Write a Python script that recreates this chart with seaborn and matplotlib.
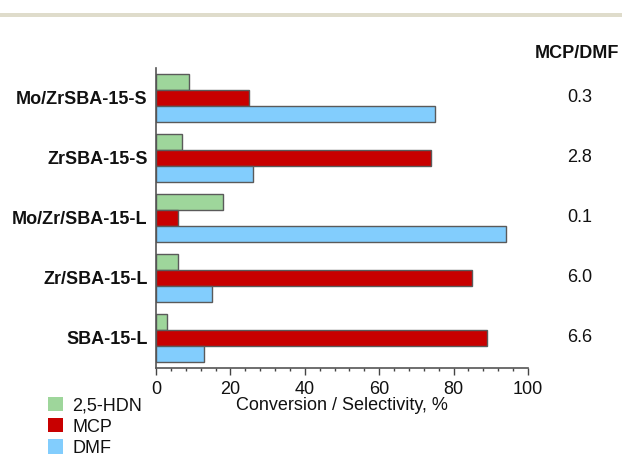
import matplotlib
matplotlib.use("Agg")
import matplotlib.pyplot as plt
import matplotlib.transforms as mtransforms
from matplotlib.patches import Patch, Rectangle
from matplotlib.ticker import MultipleLocator
import pandas as pd
import seaborn as sns

catalysts = ["Mo/ZrSBA-15-S", "ZrSBA-15-S", "Mo/Zr/SBA-15-L", "Zr/SBA-15-L", "SBA-15-L"]
products = ["2,5-HDN", "MCP", "DMF"]
hdn = [9, 7, 18, 6, 3]
mcp = [25, 74, 6, 85, 89]
dmf = [75, 26, 94, 15, 13]
ratio_labels = ["0.3", "2.8", "0.1", "6.0", "6.6"]
colors = ["#9ed69b", "#c80000", "#82cdfd"]

rows = []
for i, cat in enumerate(catalysts):
    for prod, vals in zip(products, [hdn, mcp, dmf]):
        rows.append({"catalyst": cat, "product": prod, "value": vals[i]})
df = pd.DataFrame(rows)

sns.set_theme(style="white")
plt.rcParams["font.family"] = ["Liberation Sans", "DejaVu Sans"]
plt.rcParams["text.color"] = "#111111"
plt.rcParams["axes.labelcolor"] = "#111111"
plt.rcParams["xtick.labelcolor"] = "#111111"
plt.rcParams["ytick.labelcolor"] = "#111111"
FS = 13

fig = plt.figure(figsize=(6.22, 4.59), dpi=100)
ax = fig.add_axes([156 / 622, 1 - 368 / 459, (528 - 156) / 622, (368 - 68) / 459])

sns.barplot(data=df, y="catalyst", x="value", hue="product",
            order=catalysts, hue_order=products, palette=colors,
            saturation=1, orient="h", width=0.8, edgecolor="#5a5a5a",
            linewidth=1.0, legend=False, ax=ax)

ax.set_xlim(0, 100)
ax.set_ylim(4.5, -0.5)
ax.xaxis.set_major_locator(MultipleLocator(20))
ax.xaxis.set_minor_locator(MultipleLocator(4))
ax.tick_params(axis="x", which="major", direction="out", length=5, width=1,
               color="#444444", labelsize=FS, pad=4, bottom=True)
ax.tick_params(axis="x", which="minor", direction="out", length=2.5, width=1,
               color="#444444", bottom=True)
ax.tick_params(axis="y", length=0, pad=6)
for lbl in ax.get_yticklabels():
    lbl.set_fontweight("bold")
    lbl.set_fontsize(FS)
ax.set_ylabel("")
ax.set_xlabel("Conversion / Selectivity, %", fontsize=FS, labelpad=0)

for side in ["top", "right"]:
    ax.spines[side].set_visible(False)
for side in ["left", "bottom"]:
    ax.spines[side].set_color("#555555")
    ax.spines[side].set_linewidth(1.2)

# MCP/DMF ratio column on the right
trans = mtransforms.blended_transform_factory(fig.transFigure, ax.transData)
fig.text(577 / 622, 1 - 54 / 459, "MCP/DMF", fontsize=FS, fontweight="bold",
         ha="center", va="center")
for i, r in enumerate(ratio_labels):
    ax.text(580 / 622, i, r, transform=trans, fontsize=FS,
            ha="center", va="center", clip_on=False)

handles = [Patch(facecolor=c, edgecolor="none") for c in colors]
fig.legend(handles, products, loc="upper left",
           bbox_to_anchor=(48 / 622, 1 - 397 / 459), frameon=False,
           fontsize=FS, handlelength=0.85, handleheight=0.85,
           handletextpad=0.5, labelspacing=0.2, borderpad=0,
           borderaxespad=0)

# thin band across the top
fig.add_artist(Rectangle((0, 1 - 17 / 459), 1, 4 / 459,
                         transform=fig.transFigure, color="#dfdccb", lw=0))

fig.savefig("out.png", dpi=100)
